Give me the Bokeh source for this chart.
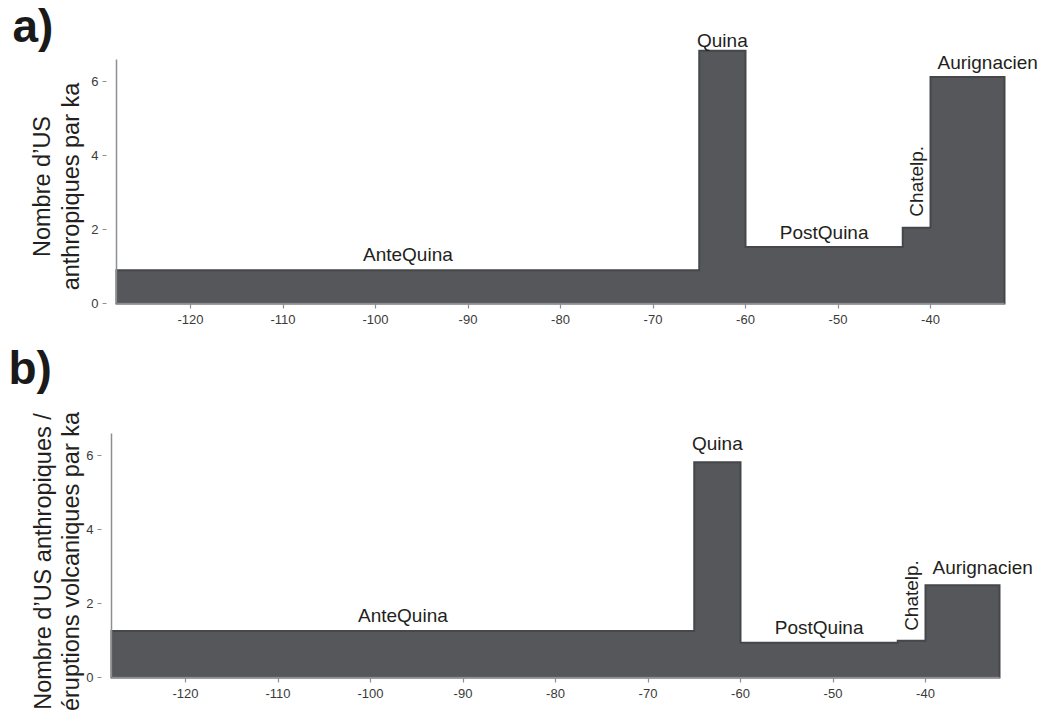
import math
from bokeh.plotting import figure
from bokeh.layouts import column
from bokeh.models import Label, FixedTicker, Range1d
from bokeh.embed import file_html
from bokeh.resources import INLINE

# ---------------- data ----------------
edges = [-128, -65, -60, -43, -40, -32]          # ka (boundaries of the periods)
periods = ["AnteQuina", "Quina", "PostQuina", "Chatelp.", "Aurignacien"]
rate_a = [0.9, 6.83, 1.53, 2.05, 6.12]          # Nombre d'US anthropiques par ka
rate_b = [1.26, 5.82, 0.94, 0.99, 2.49]         # ... / éruptions volcaniques par ka
x_ticks = [-120, -110, -100, -90, -80, -70, -60, -50, -40]
y_ticks = [0, 2, 4, 6]
panel_tags = ["a)", "b)"]
ylabel_a = ["Nombre d\u2019US", "anthropiques par ka"]
ylabel_b = ["Nombre d\u2019US anthropiques /", "\u00e9ruptions volcaniques par ka"]

FONT = "Liberation Sans"
FILL = "#55575b"
EDGE = "#45474a"
AXIS = "#8b8e92"
TXT = "#231f20"

PPX, PPY = 9.25, 37.0      # pixels per data unit
CANVAS_W = 1040
MID = 0.35                 # baseline lies MID*fontsize below a "middle" anchor


def step_outline(ed, vals):
    xs, ys = [ed[0]], [0]
    for i, v in enumerate(vals):
        xs += [ed[i], ed[i + 1]]
        ys += [v, v]
    xs.append(ed[-1])
    ys.append(0)
    return xs, ys


def make_panel(vals, tag, ylab, origin_x, top_px, bottom_px, label_offsets,
               tag_px, ylab_px):
    def X(dx_px, base=edges[0]):
        return base + dx_px / PPX

    def Y(dy_px, base=0.0):
        return base + dy_px / PPY

    x0 = X(-origin_x)
    x1 = x0 + CANVAS_W / PPX
    p = figure(frame_width=CANVAS_W, frame_height=top_px + bottom_px,
               x_range=Range1d(x0, x1),
               y_range=Range1d(-bottom_px / PPY, top_px / PPY),
               output_backend="svg", toolbar_location=None,
               min_border_left=0, min_border_top=0,
               min_border_right=0, min_border_bottom=0)
    p.outline_line_color = None
    p.xgrid.visible = False
    p.ygrid.visible = False
    p.background_fill_color = "white"
    p.border_fill_color = "white"

    xs, ys = step_outline(edges, vals)
    p.patch(xs, ys, fill_color=FILL, line_color=EDGE, line_width=2,
            line_join="miter")

    # axes (pinned to the data origin, so the frame can hold every text)
    for ax in (p.xaxis, p.yaxis):
        ax.axis_line_color = AXIS
        ax.axis_line_width = 1.5
        ax.major_tick_line_color = AXIS
        ax.major_tick_line_width = 1.2
        ax.minor_tick_line_color = None
        ax.major_label_text_font = FONT
        ax.major_label_text_font_size = "13px"
        ax.major_label_text_color = "#3a3a3a"
    p.xaxis.ticker = FixedTicker(ticks=x_ticks)
    p.xaxis.major_label_overrides = {t: str(t) for t in x_ticks}
    p.xaxis.fixed_location = 0
    p.xaxis.bounds = (edges[0], edges[-1])
    p.xaxis.major_tick_in = 0
    p.xaxis.major_tick_out = 5
    p.xaxis.major_label_standoff = 6
    p.yaxis.ticker = FixedTicker(ticks=y_ticks)
    p.yaxis.fixed_location = edges[0]
    p.yaxis.bounds = (0, 6.6)
    p.yaxis.major_tick_in = -10
    p.yaxis.major_tick_out = 14
    p.yaxis.major_label_standoff = 4

    # period labels
    fs = 19
    for i, name in enumerate(periods):
        kind, dy = label_offsets[name]
        v = vals[i]
        if kind == "above":
            lab = Label(x=(edges[i] + edges[i + 1]) / 2,
                        y=Y(dy + MID * fs, v), text=name,
                        text_align="center", text_baseline="middle")
        elif kind == "left":
            lab = Label(x=X(7, edges[i]), y=Y(dy + MID * fs, v), text=name,
                        text_align="left", text_baseline="middle")
        else:  # vertical
            lab = Label(x=(edges[i] + edges[i + 1]) / 2, y=Y(dy, v), text=name,
                        angle=math.pi / 2, text_align="left",
                        text_baseline="middle")
        lab.text_font = FONT
        lab.text_font_size = f"{fs}px"
        lab.text_color = TXT
        p.add_layout(lab)

    # panel tag
    tfs = 46
    p.add_layout(Label(x=X(tag_px[0]), y=Y(tag_px[1] + MID * tfs), text=tag,
                       text_font=FONT, text_font_size=f"{tfs}px",
                       text_font_style="bold", text_color="#1a1a1a",
                       text_baseline="middle", text_align="left"))
    # y axis title (two lines), ylab_px gives the baselines
    yfs = 23.5
    for j, line in enumerate(ylab):
        p.add_layout(Label(x=X(ylab_px[0][j] - MID * yfs), y=Y(ylab_px[1]),
                           text=line, angle=math.pi / 2, text_font=FONT,
                           text_font_size=f"{yfs}px", text_color=TXT,
                           text_align="center", text_baseline="middle"))
    return p


offs_a = {"AnteQuina": ("above", 9), "Quina": ("above", 4),
          "PostQuina": ("above", 8), "Chatelp.": ("vertical", 11),
          "Aurignacien": ("left", 8)}
offs_b = {"AnteQuina": ("above", 9), "Quina": ("above", 12),
          "PostQuina": ("above", 9), "Chatelp.": ("vertical", 10),
          "Aurignacien": ("left", 11)}

# tag / y-title pixel positions relative to the (x=-128, y=0) corner
pa = make_panel(rate_a, panel_tags[0], ylabel_a, 116, 303, 38, offs_a,
                (-104, 261), ((-66, -37), 117))
pb = make_panel(rate_b, panel_tags[1], ylabel_b, 111, 336, 36, offs_b,
                (-103, 293), ((-60, -32), 116))

layout = column(pa, pb, spacing=0)
open("out.html", "w").write(file_html(layout, INLINE))
